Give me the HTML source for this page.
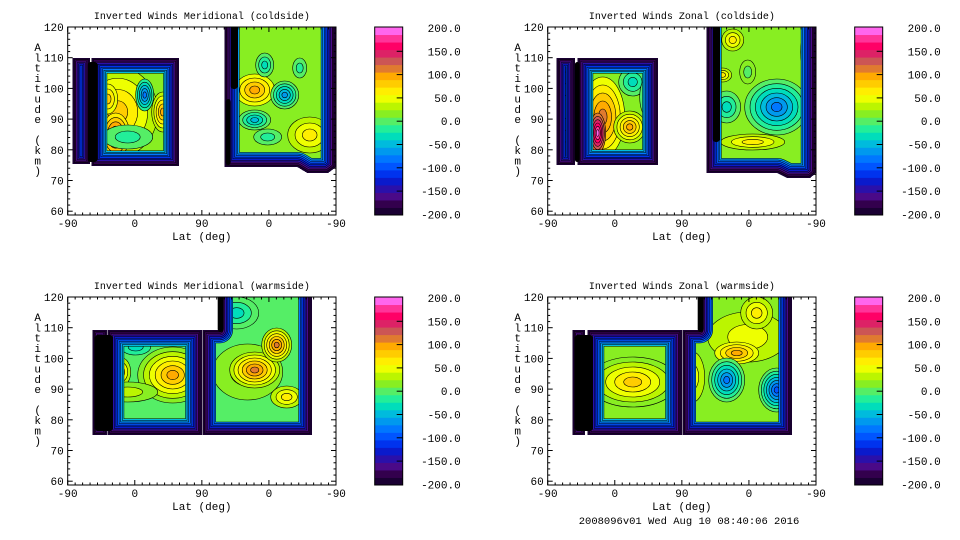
<!DOCTYPE html>
<html><head><meta charset="utf-8"><style>
html,body{margin:0;padding:0;background:#fff;}
svg{display:block;}
text{font-family:"Liberation Mono",monospace;fill:#000;}
</style></head><body>
<svg id="s" width="960" height="540" xmlns="http://www.w3.org/2000/svg"></svg>
<script>
const C=['#1a0033','#33004d','#4a0a88','#2a10aa','#0a1acc','#0033ee','#0055ff','#0077ff','#0099ee','#00bbdd','#00ddbb','#22ee99','#55ee66','#88ee22','#bbf500','#eeff00','#ffee00','#ffcc00','#ffaa00','#e07a30','#cc5555','#dd2266','#ff0066','#ff3399','#ff66ee'];
let out='';let cid=0;
const W=268.3,H=188;
function poly(x0,y0,pts){return 'M'+pts.map(p=>(x0+p[0])+','+(y0+p[1])).join('L')+'Z';}
function panel(x0,y0,title,id,regions,blobs,blacks){
  out+=`<text x="${x0+W/2}" y="${y0-8}" font-size="10" text-anchor="middle">${title}</text>`;
  out+=`<clipPath id="c${id}"><rect x="${x0}" y="${y0}" width="${W}" height="${H}"/></clipPath><g clip-path="url(#c${id})">`;
  for(const r of regions){
    const [pts,t,st,base,ob]=r;
    const d=poly(x0,y0,pts);cid++;
    out+=`<clipPath id="r${cid}"><path d="${d}" stroke-linejoin="round"/></clipPath><g clip-path="url(#r${cid})">`;
    out+=`<path d="${d}" fill="${C[base]}"/>`;
    for(const e of (ob||[])){const [cx,cy,rx,ry,f,tt]=e;const n=Math.abs(tt-f);const sg=tt>f?1:-1;
      for(let i=0;i<=n;i++){const s=1-i/(n+1);
        out+=`<ellipse cx="${x0+cx}" cy="${y0+cy}" rx="${rx*s}" ry="${ry*s}" fill="${C[f+sg*i]}" stroke="#000" stroke-width="0.6"/>`;}}
    for(let i=t-1;i>=0;i--){
      const w=2*(i+1)*st;
      out+=`<path d="${d}" fill="none" stroke="#000" stroke-width="${w+1}" stroke-linejoin="round"/><path d="${d}" fill="none" stroke="${C[i]}" stroke-width="${w}" stroke-linejoin="round"/>`;
    }
    out+='</g>';
  }
  for(const b of (blacks||[])){out+=`<rect x="${x0+b[0]}" y="${y0+b[1]}" width="${b[2]-b[0]}" height="${b[3]-b[1]}" rx="3" fill="#000"/>`;}
  for(const e of blobs){
    const [cx,cy,rx,ry,f,t]=e;const n=Math.abs(t-f);const sg=t>f?1:-1;
    for(let i=0;i<=n;i++){const s=1-i/(n+1);
      out+=`<ellipse cx="${x0+cx}" cy="${y0+cy}" rx="${rx*s}" ry="${ry*s}" fill="${C[f+sg*i]}" stroke="#000" stroke-width="0.6"/>`;}
  }
  out+='</g>';
  out+=`<rect x="${x0}" y="${y0}" width="${W}" height="${H}" fill="none" stroke="#000" stroke-width="1"/>`;
  for(let a=60;a<=120;a+=2){const y=y0+(120-a)*3.07;const L=(a%10==0)?5:2.5;
    out+=`<line x1="${x0}" x2="${x0+L}" y1="${y}" y2="${y}" stroke="#000"/><line x1="${x0+W}" x2="${x0+W-L}" y1="${y}" y2="${y}" stroke="#000"/>`;
    if(a%10==0)out+=`<text x="${x0-4}" y="${y+4}" font-size="11" text-anchor="end">${a}</text>`;}
  for(let i=0;i<=36;i++){const x=x0+i*W/36;const L=(i%9==0)?5:2.5;
    out+=`<line x1="${x}" x2="${x}" y1="${y0+H}" y2="${y0+H-L}" stroke="#000"/><line x1="${x}" x2="${x}" y1="${y0}" y2="${y0+L}" stroke="#000"/>`;}
  ['-90','0','90','0','-90'].forEach((t,i)=>{out+=`<text x="${x0+i*W/4}" y="${y0+H+12}" font-size="11" text-anchor="middle">${t}</text>`;});
  out+=`<text x="${x0+W/2}" y="${y0+H+25}" font-size="11" text-anchor="middle">Lat (deg)</text>`;
  'Altitude (km)'.split('').forEach((ch,i)=>{out+=`<text x="${x0-30}" y="${y0+24+i*10.3}" font-size="11" text-anchor="middle">${ch}</text>`;});
  const cx=x0+307,n=C.length;
  for(let i=0;i<n;i++){out+=`<rect x="${cx}" y="${y0+H-(i+1)*H/n}" width="28" height="${H/n+0.5}" fill="${C[i]}"/>`;}
  out+=`<rect x="${cx}" y="${y0}" width="28" height="${H}" fill="none" stroke="#000"/>`;
  ['200.0','150.0','100.0','50.0','0.0','-50.0','-100.0','-150.0','-200.0'].forEach((t,i)=>{const y=y0+1+i*23.3;
    if(i>0&&i<8)out+=`<line x1="${cx+22}" x2="${cx+28}" y1="${y}" y2="${y}" stroke="#000"/>`;
    out+=`<text x="${cx+86}" y="${y+4}" font-size="11" text-anchor="end">${t}</text>`;});
}
const R=(a,b,c,d)=>[[a,b],[c,b],[c,d],[a,d]];
panel(67.7,27,'Inverted Winds Meridional (coldside)',1,
 [[R(5,31,22,137),6,1.4,6,[[8,80,3,40,8,10]]],
  [R(24,31,111,139),10,1.5,13,[[50,85,40,45,14,17],[48,108,14,22,16,20],[40,72,10,15,15,17],[77,68,9,16,11,7],[95,85,11,20,14,18],[104,80,6,18,17,19],[60,110,25,12,12,11]]],
  [[[157,-20],[268,-20],[268,140],[260,146],[240,146],[230,140],[157,140]],9,1.6,13,
   [[187,63,20,16,15,18],[217,68,14,14,12,8],[187,93,16,10,12,9],[197,38,9,12,12,10],[232,41,7,10,12,11],[242,108,22,18,14,16],[200,110,14,8,12,11],[160,103,4,10,20,24]]]],
 [],
 [[20,35,30,135],[163,-5,170,62],[158,72,163,138]]);
panel(547.7,27,'Inverted Winds Zonal (coldside)',2,
 [[R(9,31,27,138),6,1.4,6,[[18,80,4,35,6,8]]],
  [R(30,31,110,138),10,1.5,13,[[55,90,22,40,15,19],[50,106,8,20,19,24],[82,100,16,16,14,18],[85,55,14,14,12,10],[100,70,8,20,12,11]]],
  [[[159,-20],[268,-20],[268,146],[262,151],[240,151],[230,146],[159,146]],9,1.6,13,
   [[229,80,32,28,12,7],[179,80,14,16,12,10],[185,13,11,11,14,16],[205,115,32,8,14,16],[265,25,12,30,14,18],[175,48,9,7,14,16],[200,45,8,12,13,12],[150,110,12,25,13,15]]]],
 [],
 [[27,35,32,135],[165,-5,172,115]]);
const shapeC=[[135,33],[152,33],[152,-20],[244,-20],[244,138],[135,138]];
panel(67.7,297,'Inverted Winds Meridional (warmside)',3,
 [[R(25,33,39,138),3,1.4,2,[]],
  [R(40,33,134,138),10,1.6,12,[[105,78,35,28,13,18],[54,75,9,14,14,16],[60,95,30,10,13,14],[68,50,15,8,11,10]]],
  [shapeC,8,1.6,12,[[180,75,35,28,13,14],[187,73,25,18,14,19],[209,48,15,17,14,19],[219,100,16,11,14,16],[169,16,22,16,12,10],[241,50,4,40,14,16],[140,65,6,15,12,11]]]],
 [],
 [[27,38,45,134],[150,-5,156,35]]);
panel(547.7,297,'Inverted Winds Zonal (warmside)',4,
 [[R(25,33,37,138),3,1.4,2,[]],
  [R(40,33,134,138),10,1.6,13,[[85,85,45,25,13,17],[127,76,9,28,12,10]]],
  [shapeC,8,1.6,13,[[200,40,40,25,14,15],[189,56,22,11,15,18],[262,40,12,40,15,19],[209,16,16,16,14,16],[179,83,18,22,12,7],[229,93,18,22,12,6],[145,80,12,25,14,15]]]],
 [],
 [[27,38,45,134],[150,-5,156,35]]);
out+=`<text x="689" y="524" font-size="10.5" text-anchor="middle">2008096v01 Wed Aug 10 08:40:06 2016</text>`;
document.getElementById('s').innerHTML=out;
</script>
</body></html>
